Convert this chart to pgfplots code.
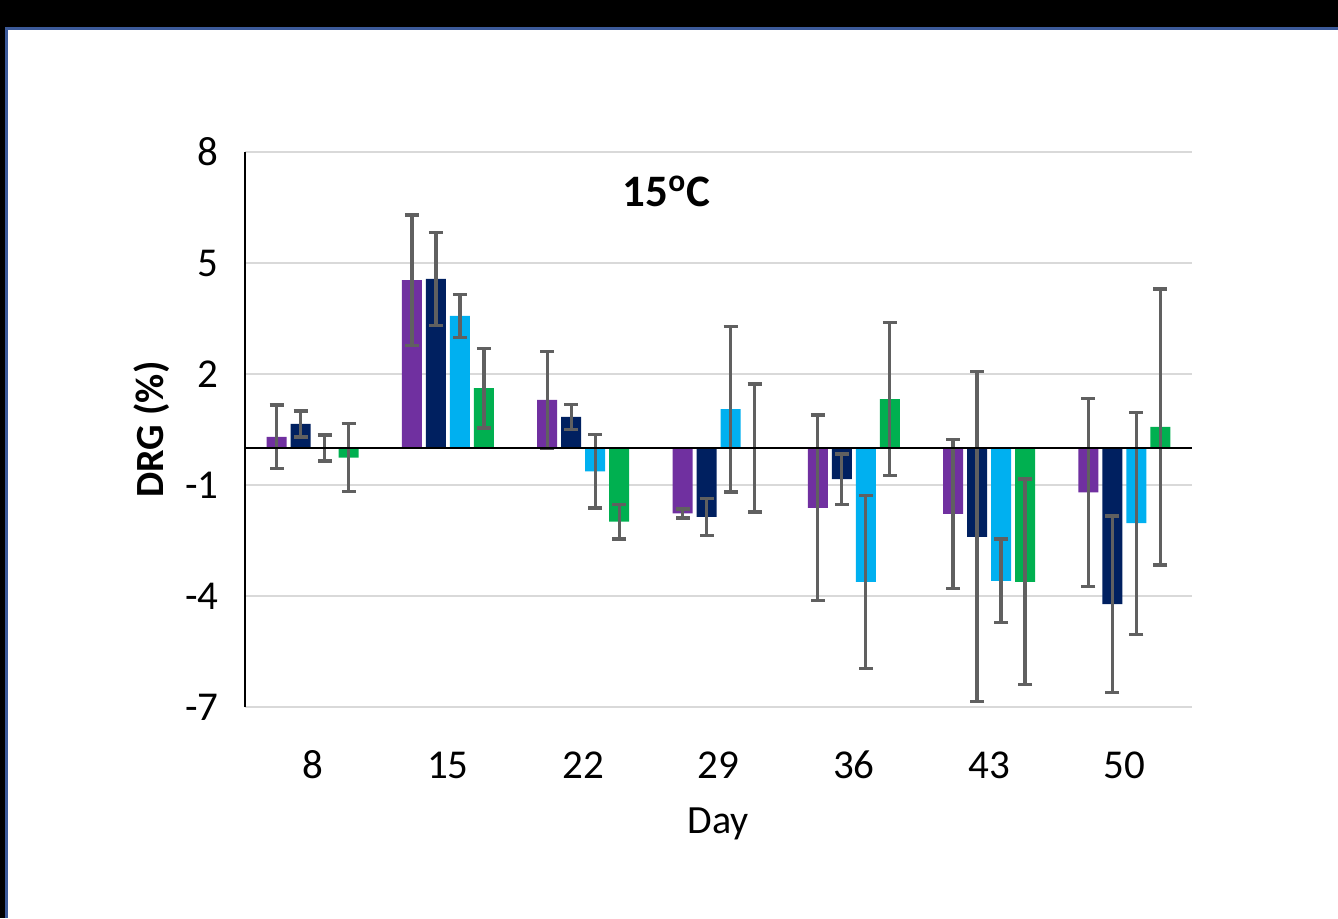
\documentclass[border=0pt]{standalone}
\usepackage{pgfplots}
\pgfplotsset{compat=1.18}
\usepackage{fontspec}
\setmainfont{Carlito}
\definecolor{cpurple}{HTML}{7030A0}
\definecolor{cnavy}{HTML}{002060}
\definecolor{clight}{HTML}{00B0F0}
\definecolor{cgreen}{HTML}{00B050}
\definecolor{errgray}{HTML}{606060}
\definecolor{gridgray}{HTML}{D9D9D9}
\definecolor{framebl}{HTML}{3C5A99}
\begin{document}
\begin{tikzpicture}
\useasboundingbox (0,0) rectangle (669pt,459pt);
\fill[white] (0,0) rectangle (669pt,459pt);
\fill[black] (0,445.5pt) rectangle (669pt,459pt);
\fill[black] (0,0) rectangle (2.5pt,459pt);
\fill[framebl] (2.5pt,444pt) rectangle (669pt,445.5pt);
\fill[framebl] (2.5pt,0) rectangle (4pt,445.5pt);
\begin{axis}[
  at={(122.5pt,105.5pt)}, anchor=south west,
  scale only axis, width=473.5pt, height=277.5pt,
  xmin=-0.5, xmax=6.5, ymin=-7, ymax=8,
  ybar=2pt, bar width=10pt,
  xtick={0,1,2,3,4,5,6}, xticklabels={8,15,22,29,36,43,50},
  ytick={-7,-4,-1,2,5,8}, yticklabels={-7,-4,-1,2,5,8},
  major tick length=0pt,
  ymajorgrids, grid style={color=gridgray, line width=1.2pt},
  axis lines*=left,
  x axis line style={draw=none},
  y axis line style={black, line width=1pt, -},
  tick label style={font=\fontsize{20.5}{24}\selectfont},
  xticklabel style={anchor=base, yshift=-35.5pt},
  yticklabel style={xshift=-9.7pt},
  xlabel={Day},
  xlabel style={at={(axis description cs:0.5,0)}, anchor=base, yshift=-63pt, font=\fontsize{20}{24}\selectfont},
  ylabel={DRG (\%)},
  ylabel style={at={(axis description cs:0,0.5)}, anchor=base, yshift=41pt, font=\bfseries\fontsize{20}{24}\selectfont},
  title={15\textsuperscript{o}C},
  title style={at={(0.445,0.881)}, anchor=base, font=\bfseries\fontsize{22.5}{27}\selectfont},
  error bars/y dir=both, error bars/y explicit,
  error bars/error bar style={draw=errgray, line width=1.6pt},
  error bars/error mark options={draw=errgray, rotate=90, mark size=3.5pt, line width=1.6pt},
]
\addplot[fill=cpurple, draw=none] coordinates {
 (0,0.30) +- (0,0.86)
 (1,4.54) +- (0,1.76)
 (2,1.30) +- (0,1.31)
 (3,-1.77) +- (0,0.12)
 (4,-1.62) +- (0,2.51)
 (5,-1.78) +- (0,2.02)
 (6,-1.20) +- (0,2.54)
};
\addplot[fill=cnavy, draw=none] coordinates {
 (0,0.65) +- (0,0.35)
 (1,4.57) +- (0,1.26)
 (2,0.84) +- (0,0.33)
 (3,-1.86) +- (0,0.50)
 (4,-0.84) +- (0,0.68)
 (5,-2.40) +- (0,4.46)
 (6,-4.22) +- (0,2.38)
};
\addplot[fill=clight, draw=none] coordinates {
 (0,0.0) +- (0,0.35)
 (1,3.57) +- (0,0.58)
 (2,-0.63) +- (0,0.99)
 (3,1.05) +- (0,2.24)
 (4,-3.62) +- (0,2.34)
 (5,-3.59) +- (0,1.13)
 (6,-2.03) +- (0,3.00)
};
\addplot[fill=cgreen, draw=none] coordinates {
 (0,-0.26) +- (0,0.92)
 (1,1.62) +- (0,1.08)
 (2,-1.99) +- (0,0.47)
 (3,0.0) +- (0,1.73)
 (4,1.32) +- (0,2.07)
 (5,-3.62) +- (0,2.78)
 (6,0.57) +- (0,3.73)
};
\draw[black, line width=1.3pt] (axis cs:-0.5,0) -- (axis cs:6.5,0);
\end{axis}
\end{tikzpicture}
\end{document}
